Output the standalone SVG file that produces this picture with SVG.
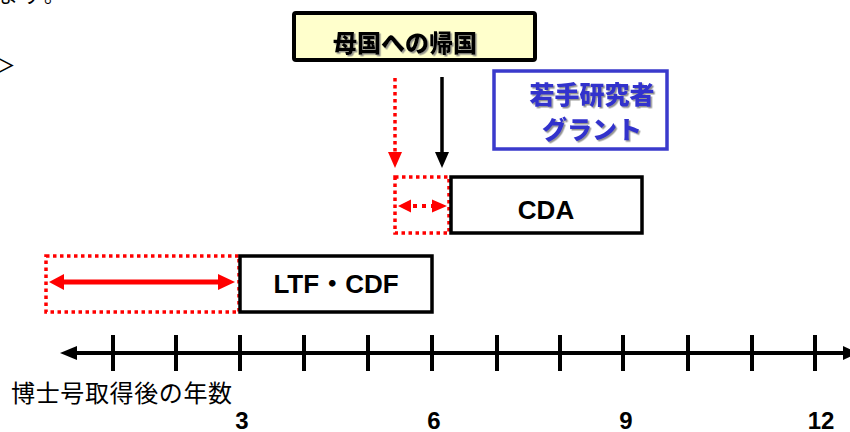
<svg xmlns="http://www.w3.org/2000/svg" width="850" height="432" viewBox="0 0 850 432">
<defs>
<style>
.box{fill:#fff;stroke:#000;stroke-width:3.5}
.rdot{fill:none;stroke:#f00;stroke-width:3.5;stroke-dasharray:3.5 3.5}
.lat{font-family:"Liberation Sans",Arial,"Noto Sans CJK JP",sans-serif;font-weight:bold;fill:#000}
.jb{font-family:"Noto Sans CJK JP","Noto Sans CJK SC",sans-serif;font-weight:900}
.jn{font-family:"Noto Sans CJK JP","Noto Sans CJK SC",sans-serif;font-weight:normal;fill:#000}
.tick{stroke:#000;stroke-width:4}
</style>
<filter id="sh" x="-5%" y="-20%" width="115%" height="150%">
<feDropShadow dx="1.5" dy="1.5" stdDeviation="0.4" flood-color="#777" flood-opacity="0.8"/>
</filter>
</defs>
<rect width="850" height="432" fill="#fff"/>

<g id="fragments">
<text class="jn" x="-2" y="3" font-size="20" textLength="66">ます。</text>
<text class="jn" x="-6" y="73" font-size="22">＞</text>
</g>

<g id="node-kikoku">
<rect x="294" y="13" width="241" height="47" rx="2" fill="#ffffcc" stroke="#000" stroke-width="4"/>
<text class="jb" x="405" y="52" font-size="24" text-anchor="middle" filter="url(#sh)">母国への帰国</text>
</g>

<g id="node-grant">
<rect x="494" y="71" width="173" height="78" fill="#fff" stroke="#3a3acc" stroke-width="3.5"/>
<text class="jb" x="592" y="104" font-size="25" text-anchor="middle" fill="#3333cc" filter="url(#sh)">若手研究者</text>
<text class="jb" x="592" y="139" font-size="25" text-anchor="middle" fill="#3333cc" filter="url(#sh)">グラント</text>
</g>

<g id="node-cda">
<rect class="rdot" x="395" y="177" width="54" height="56"/>
<rect class="box" x="451" y="177" width="191" height="56"/>
<text class="lat" x="546" y="219" font-size="26" text-anchor="middle">CDA</text>
</g>

<g id="node-ltf">
<rect class="rdot" x="46" y="256" width="193" height="56"/>
<rect class="box" x="240" y="256" width="192" height="56"/>
<text class="lat" x="336" y="293" font-size="26" text-anchor="middle">LTF・CDF</text>
</g>

<g id="connectors">
<line x1="442" y1="77" x2="442" y2="153" stroke="#000" stroke-width="3.5"/>
<polygon points="435,152 449,152 442,168" fill="#000"/>
<line x1="395" y1="78" x2="395" y2="152" stroke="#f00" stroke-width="3.5" stroke-dasharray="3.5 3.5"/>
<polygon points="388,152 402,152 395,168" fill="#f00"/>
<line x1="410" y1="206" x2="432" y2="206" stroke="#f00" stroke-width="4" stroke-dasharray="4 5" stroke-dashoffset="-3"/>
<polygon points="398,206 411,199.5 411,212.5" fill="#f00"/>
<polygon points="447,206 432,199.5 432,212.5" fill="#f00"/>
<line x1="62" y1="282" x2="220" y2="282" stroke="#f00" stroke-width="5"/>
<polygon points="49,282 64,274 64,290" fill="#f00"/>
<polygon points="235,282 218,274 218,290" fill="#f00"/>
</g>

<g id="axis">
<line x1="74" y1="353" x2="848" y2="353" stroke="#000" stroke-width="4"/>
<polygon points="60,353 77,346 77,360" fill="#000"/>
<polygon points="858,353 843,346 843,360" fill="#000"/>
<line class="tick" x1="113" y1="335" x2="113" y2="371"/>
<line class="tick" x1="176" y1="335" x2="176" y2="371"/>
<line class="tick" x1="240" y1="335" x2="240" y2="371"/>
<line class="tick" x1="304" y1="335" x2="304" y2="371"/>
<line class="tick" x1="368" y1="335" x2="368" y2="371"/>
<line class="tick" x1="432" y1="335" x2="432" y2="371"/>
<line class="tick" x1="497" y1="335" x2="497" y2="371"/>
<line class="tick" x1="560" y1="335" x2="560" y2="371"/>
<line class="tick" x1="623" y1="335" x2="623" y2="371"/>
<line class="tick" x1="688" y1="335" x2="688" y2="371"/>
<line class="tick" x1="752" y1="335" x2="752" y2="371"/>
<line class="tick" x1="815" y1="335" x2="815" y2="371"/>
<text class="jn" x="11" y="402" font-size="24" textLength="221">博士号取得後の年数</text>
<text class="lat" x="242" y="429" font-size="24" text-anchor="middle">3</text>
<text class="lat" x="434" y="429" font-size="24" text-anchor="middle">6</text>
<text class="lat" x="626" y="429" font-size="24" text-anchor="middle">9</text>
<text class="lat" x="821" y="429" font-size="24" text-anchor="middle">12</text>
</g>
</svg>
